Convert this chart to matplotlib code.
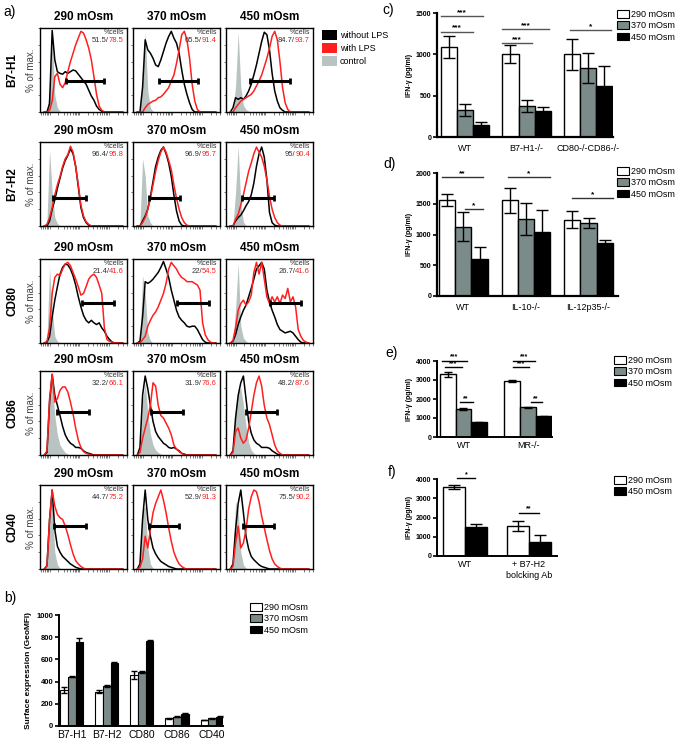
import numpy as np
import matplotlib
matplotlib.use('Agg')
import matplotlib.pyplot as plt
from matplotlib.patches import Patch

plt.rcParams['font.family'] = ['Liberation Sans', 'DejaVu Sans']

W, H = 675, 740
RED = '#ff1f1f'
CTRL = '#b9c3c1'
GREY_BAR = '#7b8b89'

# ---------------- a) flow cytometry histograms ----------------
osm_titles = ['290 mOsm', '370 mOsm', '450 mOsm']
markers = ['B7-H1', 'B7-H2', 'CD80', 'CD86', 'CD40']
channel = np.linspace(0.05, 0.95, 31)   # fluorescence channel (fraction of axis)

b7h1_no_lps = [
    [0, 0, 10, 97, 62, 48, 46, 45, 48, 46, 48, 50, 49, 45, 41, 37, 33, 26, 19, 14, 7, 3, 1],
    [0, 0, 29, 86, 74, 70, 64, 56, 54, 62, 72, 82, 90, 96, 88, 82, 70, 50, 33, 21, 11, 3],
    [0, 5, 17, 15, 17, 15, 19, 25, 33, 44, 56, 70, 84, 95, 92, 74, 46, 25, 13, 5, 2],
]
b7h1_lps = [
    [0, 0, 2, 13, 42, 46, 33, 29, 35, 48, 60, 70, 80, 88, 96, 94, 86, 76, 62, 42, 21, 7, 2],
    [0, 0, 0, 5, 9, 11, 13, 14, 17, 18, 21, 25, 29, 37, 44, 58, 74, 92, 96, 86, 64, 33, 13, 3],
    [0, 0, 5, 9, 13, 15, 17, 19, 21, 25, 31, 37, 44, 54, 64, 76, 90, 96, 86, 60, 29, 11, 3],
]
b7h1_ctrl = [
    [0, 2, 30, 90, 20, 5, 1],
    [0, 2, 35, 95, 25, 5, 1],
    [0, 2, 30, 95, 30, 8, 3, 1],
]

b7h2_no_lps = [
    [0, 0, 6, 20, 31, 45, 57, 69, 78, 84, 92, 86, 71, 47, 22, 10, 4, 1],
    [0, 0, 6, 12, 20, 35, 53, 71, 82, 90, 94, 86, 75, 59, 37, 18, 6, 1],
    [0, 0, 6, 10, 13, 18, 24, 29, 37, 51, 71, 86, 94, 82, 55, 16, 4, 1],
]
b7h2_lps = [
    [0, 2, 10, 22, 37, 49, 59, 71, 80, 85, 95, 88, 71, 49, 25, 12, 5, 2],
    [0, 0, 4, 10, 20, 33, 49, 65, 78, 88, 94, 88, 78, 67, 49, 33, 20, 10, 4, 1],
    [0, 0, 8, 14, 25, 37, 51, 65, 75, 86, 94, 88, 82, 71, 55, 35, 20, 10, 4, 1],
]
b7h2_ctrl = [
    [0, 5, 90, 40, 10, 3],
    [0, 3, 80, 60, 12, 4],
    [0, 2, 40, 95, 25, 5],
]

cd80_no_lps = [
    [0, 1, 8, 31, 51, 67, 82, 90, 94, 93, 88, 80, 69, 55, 43, 33, 27, 24, 27, 24, 22, 24, 18, 14, 8, 4, 1],
    [0, 2, 31, 73, 71, 73, 76, 80, 84, 90, 97, 88, 78, 63, 51, 39, 31, 27, 24, 20, 19, 20, 20, 16, 10, 4, 1],
    [0, 2, 10, 22, 31, 39, 45, 55, 65, 76, 88, 92, 96, 88, 63, 49, 39, 31, 22, 16, 14, 12, 13, 14, 12, 8, 4, 1],
]
cd80_lps = [
    [0, 2, 18, 59, 78, 82, 80, 88, 94, 96, 92, 84, 76, 67, 57, 59, 67, 76, 80, 82, 78, 69, 59, 18, 4, 2, 1],
    [0, 0, 4, 8, 20, 27, 33, 37, 43, 51, 59, 71, 88, 96, 92, 88, 82, 78, 76, 73, 73, 73, 71, 69, 63, 24, 10, 4, 1],
    [0, 3, 18, 39, 47, 51, 45, 49, 57, 84, 96, 82, 96, 76, 55, 47, 55, 49, 55, 47, 57, 53, 65, 49, 55, 43, 16, 8, 3, 1],
]
cd80_ctrl = [
    [0, 5, 90, 40, 8, 2],
    [0, 3, 80, 60, 12, 3],
    [0, 2, 40, 95, 20, 6, 2],
]

cd86_no_lps = [
    [0, 3, 63, 96, 71, 59, 47, 34, 24, 18, 14, 12, 9, 9, 8, 5, 3, 2, 1],
    [0, 9, 71, 94, 79, 59, 40, 28, 22, 18, 14, 12, 9, 8, 9, 7, 5, 2, 1],
    [0, 5, 44, 71, 86, 94, 67, 40, 26, 18, 14, 12, 9, 9, 9, 8, 5, 3, 1],
]
cd86_lps = [
    [0, 5, 67, 96, 63, 67, 77, 81, 81, 75, 63, 49, 32, 18, 9, 4, 2, 1],
    [0, 3, 20, 32, 44, 59, 86, 82, 59, 47, 44, 38, 32, 24, 12, 7, 4, 2],
    [0, 3, 28, 32, 20, 14, 18, 32, 51, 71, 86, 94, 82, 59, 44, 36, 24, 12, 5, 2],
]
cd86_ctrl = [
    [0, 5, 75, 86, 47, 24, 12, 7, 3, 1],
    [0, 5, 65, 86, 50, 25, 12, 6, 3, 1],
    [0, 5, 55, 75, 80, 60, 35, 15, 6, 2],
]

cd40_no_lps = [
    [0, 4, 59, 94, 47, 27, 20, 15, 12, 9, 6, 4, 2, 1],
    [0, 6, 59, 94, 59, 39, 25, 18, 13, 9, 7, 5, 3, 2, 1],
    [0, 6, 47, 78, 94, 67, 39, 24, 15, 11, 8, 5, 3, 2, 1],
]
cd40_lps = [
    [0, 3, 59, 94, 75, 65, 61, 59, 51, 41, 29, 18, 10, 6, 3, 1],
    [0, 2, 12, 39, 25, 47, 67, 78, 86, 94, 82, 67, 49, 33, 20, 12, 6, 3, 1],
    [0, 3, 31, 51, 25, 31, 47, 71, 86, 94, 92, 80, 63, 49, 35, 22, 12, 6, 3, 1],
]
cd40_ctrl = [
    [0, 3, 70, 80, 20, 5, 1],
    [0, 3, 70, 75, 25, 6, 1],
    [0, 5, 80, 70, 20, 5, 1],
]

# gates: (start, end, height)
gates = [
    [(0.30, 0.74, 37), (0.30, 0.75, 37), (0.28, 0.73, 37)],
    [(0.15, 0.53, 33), (0.18, 0.54, 33), (0.18, 0.55, 33)],
    [(0.48, 0.85, 48), (0.50, 0.87, 48), (0.51, 0.86, 48)],
    [(0.20, 0.56, 51), (0.21, 0.58, 51), (0.23, 0.59, 51)],
    [(0.16, 0.53, 51), (0.18, 0.53, 51), (0.19, 0.55, 51)],
]
pct_cells = [
    [('51.5', '78.5'), ('65.5', '91.4'), ('84.7', '93.7')],
    [('96.4', '95.8'), ('96.9', '95.7'), ('95', '90.4')],
    [('21.4', '41.6'), ('22', '54.5'), ('26.7', '41.6')],
    [('32.2', '66.1'), ('31.9', '76.6'), ('48.2', '87.6')],
    [('44.7', '75.2'), ('52.9', '91.3'), ('75.5', '90.2')],
]
no_lps = [b7h1_no_lps, b7h2_no_lps, cd80_no_lps, cd86_no_lps, cd40_no_lps]
with_lps = [b7h1_lps, b7h2_lps, cd80_lps, cd86_lps, cd40_lps]
controls = [b7h1_ctrl, b7h2_ctrl, cd80_ctrl, cd86_ctrl, cd40_ctrl]

# ---------------- b) surface expression ----------------
b_groups = ['B7-H1', 'B7-H2', 'CD80', 'CD86', 'CD40']
b_290 = [325, 310, 460, 69, 54]
b_370 = [444, 360, 486, 84, 69]
b_450 = [760, 570, 769, 111, 84]
b_290_err = [28, 12, 40, 5, 3]
b_370_err = [6, 10, 5, 3, 3]
b_450_err = [35, 5, 10, 3, 3]

# ---------------- c) ----------------
c_groups = ['WT', 'B7-H1-/-', 'CD80-/-CD86-/-']
c_290 = [1090, 1005, 1000]
c_370 = [327, 376, 838]
c_450 = [143, 315, 613]
c_290_err = [133, 113, 190]
c_370_err = [75, 70, 184]
c_450_err = [40, 45, 240]
c_sig = [(-0.38, 0.29, 1464, '***'), (-0.38, 0.13, 1274, '***'),
         (0.61, 1.36, 1306, '***'), (0.61, 1.09, 1140, '***'),
         (1.71, 2.37, 1294, '*')]

# ---------------- d) ----------------
d_groups = ['WT', 'IL-10-/-', 'IL-12p35-/-']
d_290 = [1565, 1554, 1239]
d_370 = [1130, 1250, 1185]
d_450 = [598, 1033, 859]
d_290_err = [98, 210, 140]
d_370_err = [230, 258, 80]
d_450_err = [206, 370, 45]
d_sig = [(-0.34, 0.31, 1930, '**'), (0.02, 0.31, 1410, '*'),
         (0.71, 1.38, 1930, '*'), (1.74, 2.39, 1588, '*')]

# ---------------- e) ----------------
e_groups = ['WT', 'MR-/-']
e_290 = [3300, 2950]
e_370 = [1485, 1555]
e_450 = [769, 1083]
e_290_err = [130, 40]
e_370_err = [50, 20]
e_450_err = [30, 40]
e_sig = [(-0.34, 0.05, 4015, '***'), (-0.29, -0.02, 3680, '***'),
         (-0.06, 0.14, 1840, '**'), (0.76, 1.11, 4015, '***'),
         (0.76, 1.01, 3680, '***'), (1.04, 1.21, 1840, '**')]

# ---------------- f) ----------------
f_groups = ['WT', '+ B7-H2\nbolcking Ab']
f_290 = [3594, 1550]
f_450 = [1499, 733]
f_290_err = [120, 255]
f_450_err = [160, 340]
f_sig = [(-0.12, 0.16, 4030, '*'), (0.84, 1.16, 2250, '**')]


def rect(left, top, width, height):
    return [left / W, 1 - (top + height) / H, width / W, height / H]


def pad(vals):
    return np.array(list(vals) + [0] * (len(channel) - len(vals)), float)


fig = plt.figure(figsize=(W / 100, H / 100), dpi=100)

col_left = [40, 133, 226]
row_top = [28, 142, 259, 371, 485]
box_w, box_h = 87, 84

# log-like decade ticks on the fluorescence axis
minor_ticks = []
for start in [-0.23, 0.11, 0.45, 0.79]:
    for k in range(1, 10):
        p = start + 0.34 * np.log10(k)
        if 0 <= p <= 1:
            minor_ticks.append(p)

for r, marker in enumerate(markers):
    for c in range(3):
        ax = fig.add_axes(rect(col_left[c], row_top[r], box_w, box_h))
        ax.fill_between(channel, pad(controls[r][c]), color=CTRL, lw=0)
        ax.plot(channel, pad(no_lps[r][c]), color='k', lw=1.1)
        ax.plot(channel, pad(with_lps[r][c]), color=RED, lw=1.1)
        g0, g1, gy = gates[r][c]
        ax.plot([g0, g1], [gy, gy], color='k', lw=2.2, solid_capstyle='butt')
        ax.plot([g0, g1], [gy, gy], ls='none', marker='|', ms=5, mew=2, color='k')
        ax.set_xlim(0, 1)
        ax.set_ylim(0, 100)
        ax.set_xticks(minor_ticks)
        ax.set_yticks(range(0, 101, 20))
        ax.tick_params(direction='out', length=1.8, width=0.5, labelbottom=False,
                       labelleft=False, colors='#444444')
        for s in ax.spines.values():
            s.set_linewidth(1.0)
        ax.text(0.965, 0.95, '%cells', transform=ax.transAxes, ha='right',
                va='center', fontsize=5, color='#333333')
        t_red = ax.text(0.965, 0.85, pct_cells[r][c][1], transform=ax.transAxes,
                        ha='right', va='center', fontsize=5.5, color=RED)
        ax.annotate(pct_cells[r][c][0] + '/', xy=(0, 0.5), xycoords=t_red,
                    ha='right', va='center', fontsize=5.5, color='#333333')
        fig.text((col_left[c] + box_w / 2) / W, 1 - (row_top[r] - 11) / H,
                 osm_titles[c], ha='center', va='center', fontsize=8.5,
                 fontweight='bold')
    fig.text(12 / W, 1 - (row_top[r] + box_h / 2) / H, marker, rotation=90,
             ha='center', va='center', fontsize=8.5, fontweight='bold')
    fig.text(31 / W, 1 - (row_top[r] + box_h / 2) / H, '% of max.', rotation=90,
             ha='center', va='center', fontsize=7, color='#444444')

fig.legend([Patch(facecolor='k'), Patch(facecolor=RED), Patch(facecolor=CTRL)],
           ['without LPS', 'with LPS', 'control'], loc='upper left',
           bbox_to_anchor=(322 / W, 1 - 30 / H), frameon=False, fontsize=6.5,
           handlelength=1.7, handleheight=1.3, handletextpad=0.3,
           labelspacing=0.35, borderpad=0, borderaxespad=0)


def style_bar_axis(ax, spine_w=1.6, label_size=5):
    ax.spines['top'].set_visible(False)
    ax.spines['right'].set_visible(False)
    ax.spines['left'].set_linewidth(spine_w)
    ax.spines['bottom'].set_linewidth(spine_w)
    ax.tick_params(axis='y', direction='out', length=3, width=1.2,
                   labelsize=label_size, pad=1)
    ax.tick_params(axis='x', length=0, pad=5)
    for lbl in ax.get_yticklabels():
        lbl.set_fontweight('bold')


def grouped_bars(ax, groups, series, errs, colors, width, capsize, lw=1.0):
    x = np.arange(len(groups))
    n = len(series)
    for i, (vals, err, col) in enumerate(zip(series, errs, colors)):
        off = (i - (n - 1) / 2) * width
        ax.bar(x + off, vals, width, color=col, edgecolor='k', linewidth=lw,
               yerr=err, capsize=capsize, zorder=2,
               error_kw=dict(ecolor='k', elinewidth=1.0, capthick=1.0, zorder=3))
    ax.set_xticks(x)
    ax.set_xticklabels(groups)


def sig_marks(ax, sigs, color='#333333', star_size=6):
    for x0, x1, y, lab in sigs:
        ax.plot([x0, x1], [y, y], color=color, lw=1.0, clip_on=False)
        ax.text((x0 + x1) / 2, y, lab, ha='center', va='bottom',
                fontsize=star_size, fontweight='bold', clip_on=False)


def bar_legend(labels, colors, x, y, fs=6.5):
    fig.legend([Patch(facecolor=c, edgecolor='k', linewidth=0.8) for c in colors],
               labels, loc='upper left', bbox_to_anchor=(x / W, 1 - y / H),
               frameon=False, fontsize=fs, handlelength=1.3, handleheight=0.9,
               handletextpad=0.2, labelspacing=0.25, borderpad=0,
               borderaxespad=0)


osm3 = ['290 mOsm', '370 mOsm', '450 mOsm']
col3 = ['white', GREY_BAR, 'black']

# b)
axb = fig.add_axes(rect(59, 615, 164, 111))
grouped_bars(axb, b_groups, [b_290, b_370, b_450],
             [b_290_err, b_370_err, b_450_err], col3, 0.22, 2, lw=0.8)
axb.set_xlim(-0.36, 4.31)
axb.set_ylim(0, 1000)
axb.set_yticks(range(0, 1001, 200))
style_bar_axis(axb, spine_w=1.4, label_size=5.5)
axb.tick_params(axis='x', labelsize=7.5, pad=3)
axb.set_ylabel('Surface expression (GeoMFI)', fontsize=6, fontweight='bold',
               labelpad=3)
bar_legend(osm3, col3, 250, 603)

# c)
axc = fig.add_axes(rect(437, 13, 176, 124))
grouped_bars(axc, c_groups, [c_290, c_370, c_450],
             [c_290_err, c_370_err, c_450_err], col3, 0.26, 4.5)
axc.set_xlim(-0.45, 2.40)
axc.set_ylim(0, 1500)
axc.set_yticks([0, 500, 1000, 1500])
style_bar_axis(axc)
axc.tick_params(axis='x', labelsize=6.5)
axc.set_ylabel('IFN-γ (pg/ml)', fontsize=5, fontweight='bold', labelpad=2)
sig_marks(axc, c_sig, color='#555555')
bar_legend(osm3, col3, 617, 10)

# d)
axd = fig.add_axes(rect(437, 173, 181, 123))
grouped_bars(axd, d_groups, [d_290, d_370, d_450],
             [d_290_err, d_370_err, d_450_err], col3, 0.26, 4.5)
axd.set_xlim(-0.42, 2.47)
axd.set_ylim(0, 2000)
axd.set_yticks([0, 500, 1000, 1500, 2000])
style_bar_axis(axd)
axd.tick_params(axis='x', labelsize=6.5)
axd.set_ylabel('IFN-γ (pg/ml)', fontsize=5, fontweight='bold', labelpad=2)
sig_marks(axd, d_sig)
bar_legend(osm3, col3, 617, 167)

# e)
axe = fig.add_axes(rect(437, 361, 115, 76))
grouped_bars(axe, e_groups, [e_290, e_370, e_450],
             [e_290_err, e_370_err, e_450_err], col3, 0.245, 3)
axe.set_xlim(-0.41, 1.37)
axe.set_ylim(0, 4000)
axe.set_yticks([0, 1000, 2000, 3000, 4000])
style_bar_axis(axe, spine_w=1.4)
axe.tick_params(axis='x', labelsize=6.5, pad=3)
axe.set_ylabel('IFN-γ (pg/ml)', fontsize=5, fontweight='bold', labelpad=2)
sig_marks(axe, e_sig, color='k', star_size=5)
bar_legend(osm3, col3, 614, 356)

# f)
axf = fig.add_axes(rect(437, 479, 120, 77))
grouped_bars(axf, f_groups, [f_290, f_450], [f_290_err, f_450_err],
             ['white', 'black'], 0.34, 4)
axf.set_xlim(-0.44, 1.44)
axf.set_ylim(0, 4000)
axf.set_yticks([0, 1000, 2000, 3000, 4000])
style_bar_axis(axf, spine_w=1.4)
axf.tick_params(axis='x', labelsize=6.5, pad=3)
axf.set_ylabel('IFN-γ (pg/ml)', fontsize=5, fontweight='bold', labelpad=2)
sig_marks(axf, f_sig, color='k', star_size=5)
bar_legend(['290 mOsm', '450 mOsm'], ['white', 'black'], 614, 476)

# panel letters
for lab, x, y in [('a)', 10, 12), ('b)', 10, 598), ('c)', 388, 10),
                  ('d)', 390, 164), ('e)', 392, 353), ('f)', 392, 472)]:
    fig.text(x / W, 1 - y / H, lab, ha='center', va='center', fontsize=10)

fig.savefig('out.png', dpi=100)
